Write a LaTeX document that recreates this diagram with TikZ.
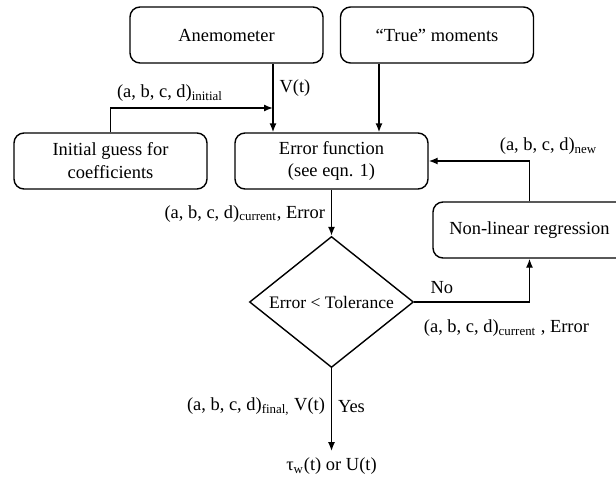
\documentclass[tikz,border=0pt]{standalone}
\usepackage{fontspec}
\setmainfont{Liberation Serif}
\usetikzlibrary{positioning, arrows.meta, shapes.geometric}
\tikzstyle{block}=[draw,thick,fill=white,rectangle,rounded corners=0.2cm,minimum width=3.86cm,minimum height=1.12cm,align=center]
\tikzstyle{decision}=[draw,thick,diamond,aspect=1.25,minimum width=3.28cm,minimum height=2.62cm,inner sep=0pt]
\tikzstyle{every node}=[font=\fontsize{10.5}{13}\selectfont]

\begin{document}
\begin{tikzpicture}[auto,>={Latex[length=1.8mm,width=1.4mm]},thick]
            \path[use as bounding box, clip] (0,0) rectangle (12.32,-9.64);
            \node[block] (anem) at (4.53,-0.70) {Anemometer};
            \node[block, right of=anem, node distance=4.21cm] (true) {“True” moments};
            \node[block] (init) at (2.21,-3.22) {Initial guess for\\coefficients};
            \node[block, right of=init, node distance=4.42cm] (err) {Error function\\(see eqn. 1)};
            \node[decision, below of=err, node distance=2.82cm] (dec) {\fontsize{10}{12}\selectfont Error < Tolerance};
            \node[block] (nlr) at (10.59,-4.60) {Non-linear regression};
            \node[below of=dec, node distance=3.28cm] (out) {τ\textsubscript{w}(t) or U(t)};
            \coordinate (join) at (5.46,-2.16);
            \coordinate (tm) at (7.58,-2.16);
            \draw[->] (anem.south -| join) -- node[right, pos=0.36] {V(t)} (err.north -| join);
            \draw[->] (init.north) |- node[above right, pos=0.5] {(a, b, c, d)\textsubscript{initial}} (join);
            \draw[->] (true.south -| tm) -- (err.north -| tm);
            \draw[->] (err) -- node[left, pos=0.52] {(a, b, c, d)\textsubscript{current}, Error} (dec);
            \draw[->] (nlr.north) |- node[above, pos=0.5, xshift=0.38cm] {(a, b, c, d)\textsubscript{new}} (err.east);
            \draw[->] (dec.east) -| node[above, pos=0.12, yshift=0.04cm] {No} node[below, pos=0.4, yshift=-0.22cm] {(a, b, c, d)\textsubscript{current} , Error} (nlr.south);
            \draw[->] (dec) -- node[right, pos=0.46] {Yes} node[left, pos=0.46] {(a, b, c, d)\textsubscript{final,} V(t)} (out);
        \end{tikzpicture}
\end{document}
